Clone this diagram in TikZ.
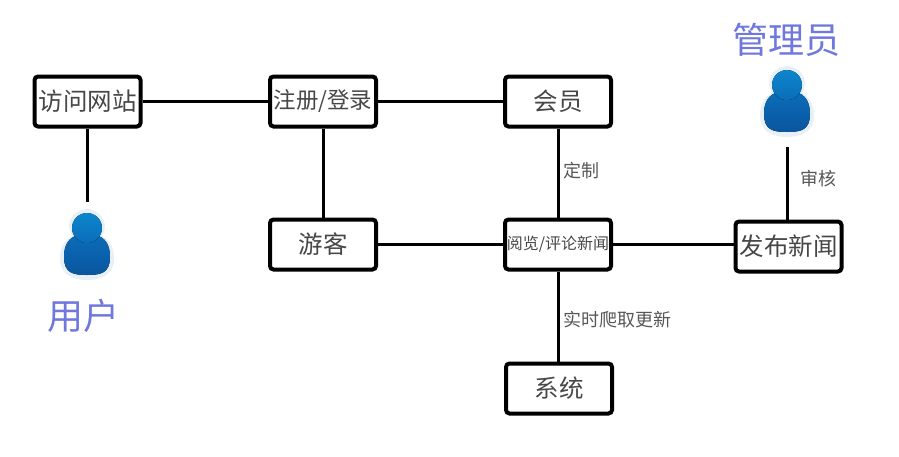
\documentclass[tikz,border=0pt]{standalone}
\usepackage{fontspec}
\setmainfont{Noto Sans CJK SC}
\definecolor{bodytop}{HTML}{0B6DB8}
\definecolor{bodybot}{HTML}{0A559F}
\definecolor{headtop}{HTML}{0C86CC}
\definecolor{headbot}{HTML}{0B6DB8}
\definecolor{halo}{HTML}{E6F0F6}
\definecolor{roleblue}{HTML}{6F78DC}
\tikzset{
  flowbox/.style={draw=black,line width=4pt,rounded corners=3.5pt,fill=white,minimum width=106pt,minimum height=50pt,inner sep=0pt,text=black!72,font=\fontsize{24.5}{27}\selectfont},
  link/.style={line width=3pt,draw=black},
  edgetext/.style={text=black!66,inner sep=0pt,font=\fontsize{18}{20}\selectfont},
  roletext/.style={text=roleblue,inner sep=0pt,font=\fontsize{36}{40}\selectfont},
  pics/person/.style={code={
    \fill[halo] (-27,12) .. controls (-27,-3) and (-20,-8) .. (-15,-11) .. controls (-24,-27) and (-10,-38) .. (0,-38) .. controls (10,-38) and (24,-27) .. (15,-11) .. controls (20,-8) and (27,-3) .. (27,12) .. controls (27,29) and (12,33) .. (0,33) .. controls (-12,33) and (-27,29) .. (-27,12) -- cycle;
    \fill[top color=bodytop,bottom color=bodybot] (-23,10) .. controls (-23,-4) and (-17,-9) .. (-10,-12) -- (10,-12) .. controls (17,-9) and (23,-4) .. (23,10) .. controls (23,26) and (14,28) .. (0,28) .. controls (-14,28) and (-23,26) .. (-23,10) -- cycle;
    \fill[top color=headtop,bottom color=headbot] (0,-19) circle[radius=15];
  }}
}
\begin{document}
\begin{tikzpicture}[x=1pt,y=-1pt]
\useasboundingbox (0,0) rectangle (899,456);
\node[flowbox] (visit) at (87.5,101.5) {访问网站};
\node[flowbox,font=\fontsize{22.5}{26}\selectfont] (login) at (323,101.5) {注册/登录};
\node[flowbox] (member) at (558,101.5) {会员};
\node[flowbox] (guest) at (323,244.5) {游客};
\node[flowbox,font=\fontsize{16}{18}\selectfont] (read) at (558,244.5) {阅览/评论新闻};
\node[flowbox] (publish) at (788.5,246.5) {发布新闻};
\node[flowbox] (system) at (559,388.5) {系统};
\coordinate (userend) at (87,202);
\coordinate (adminend) at (787,147);
\draw[link] (visit) -- (login);
\draw[link] (login) -- (member);
\draw[link] (visit.south -| userend) -- (userend);
\draw[link] (login) -- (guest);
\draw[link] (member) -- (read);
\draw[link] (guest) -- (read);
\draw[link] (read.east) -- (read.east -| publish.west);
\draw[link] (read.south) -- (read.south |- system.north);
\draw[link] (adminend) -- (adminend |- publish.north);
\pic at (87,247) {person};
\pic at (787,104) {person};
\node[roletext] (user) at (83,316) {用户};
\node[roletext] (admin) at (786,40) {管理员};
\node[edgetext,anchor=west] (t1) at (563,171) {定制};
\node[edgetext,anchor=west] (t2) at (563,320) {实时爬取更新};
\node[edgetext,anchor=west] (t3) at (800,179) {审核};
\end{tikzpicture}
\end{document}
